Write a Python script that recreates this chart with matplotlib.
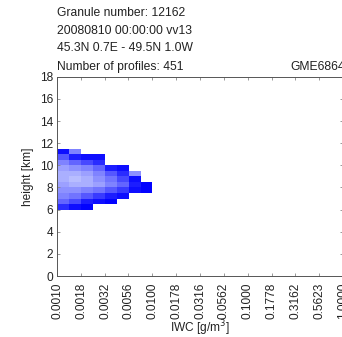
import numpy as np
import matplotlib
matplotlib.use('Agg')
import matplotlib.pyplot as plt
from matplotlib.colors import LinearSegmentedColormap

plt.rcParams['font.family'] = ['Liberation Sans', 'DejaVu Sans']

# header text
header = ['Granule number: 12162',
          '20080810 00:00:00 vv13',
          '45.3N 0.7E - 49.5N 1.0W',
          'Number of profiles: 451']
tag = 'GME6864'

# histogram bins (log10 IWC) and height bins [km]
iwc_edges_log = [-3.0, -2.875, -2.75, -2.625, -2.5, -2.375, -2.25, -2.125, -2.0]
height_edges = [6.0, 6.5, 7.0, 7.5, 8.0, 8.5, 9.0, 9.5, 10.0, 10.5, 11.0, 11.5]

# relative occurrence per cell, rows from 6.0-6.5 km upward, 0 = empty
counts = [
    [15,  5,  1,  0,  0,  0,  0,  0],
    [35, 25, 10,  5,  1,  0,  0,  0],
    [45, 40, 30, 20, 10,  5,  0,  0],
    [50, 50, 45, 40, 30, 20,  5,  1],
    [55, 60, 60, 55, 45, 35, 10,  1],
    [60, 65, 60, 50, 40, 25,  5,  0],
    [60, 60, 55, 45, 30, 15, 50,  0],
    [55, 50, 45, 35, 10,  5,  0,  0],
    [45, 35, 25, 15,  0,  0,  0,  0],
    [30, 10,  5,  5,  0,  0,  0,  0],
    [ 5, 45,  0,  0,  0,  0,  0,  0],
]

xtick_labels = ['0.0010', '0.0018', '0.0032', '0.0056', '0.0100', '0.0178',
                '0.0316', '0.0562', '0.1000', '0.1778', '0.3162', '0.5623', '1.0000']
ytick_vals = [0, 2, 4, 6, 8, 10, 12, 14, 16, 18]

fig = plt.figure(figsize=(3.42, 3.37), dpi=100)
ax = fig.add_axes([0.167, 0.181, 0.836, 0.591])

cmap = LinearSegmentedColormap.from_list('blues', [(0, 0, 1), (0.72, 0.74, 1)])
data = np.ma.masked_equal(np.array(counts, dtype=float), 0)
xe = 10 ** np.array(iwc_edges_log)
ax.pcolormesh(xe, height_edges, data, cmap=cmap, vmin=0, vmax=65)

ax.set_xscale('log')
ax.set_xlim(1e-3, 1e0)
ax.set_ylim(0, 18)
xt = [float(s) for s in xtick_labels]
ax.set_xticks(xt)
ax.set_xticklabels(xtick_labels, rotation=90, fontsize=8.6, color='#222222')
ax.minorticks_off()
ax.set_yticks(ytick_vals)
ax.set_yticklabels([str(v) for v in ytick_vals], fontsize=8.6, color='#222222')
ax.tick_params(axis='both', direction='in', length=2.5, width=0.6, top=True, right=True,
               color='#888888')
ax.tick_params(axis='x', pad=5)
ax.tick_params(axis='y', pad=3)
for s in ax.spines.values():
    s.set_linewidth(0.7)
    s.set_color('#555555')

ax.set_xlabel('IWC [g/m$^3$]', fontsize=8.6, labelpad=-1, color='#222222')
ax.set_ylabel('height [km]', fontsize=8.6, labelpad=4, color='#222222')

ys = [0.962, 0.908, 0.858, 0.802]
for t, y in zip(header, ys):
    fig.text(0.167, y, t, fontsize=8.7, va='center', ha='left', color='#222222')
fig.text(0.848, ys[-1], tag, fontsize=8.7, va='center', ha='left', color='#222222')

fig.savefig('out.png', dpi=100)
